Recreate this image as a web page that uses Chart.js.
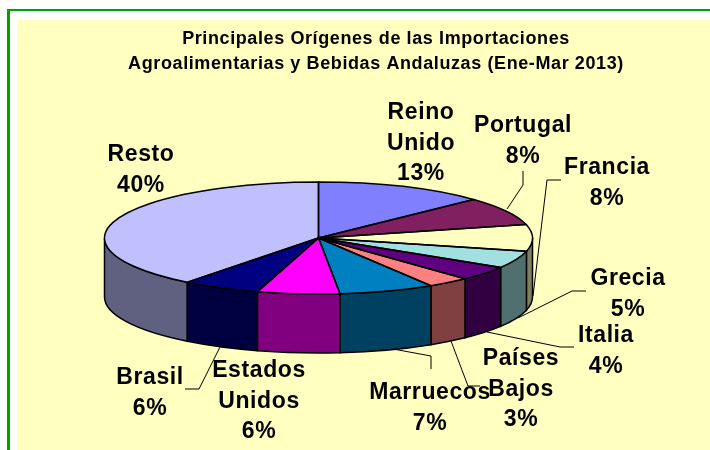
<!DOCTYPE html>
<html>
<head>
<meta charset="utf-8">
<title>Importaciones Andaluzas</title>
<script src="https://cdn.jsdelivr.net/npm/chart.js@4"></script>
<style>
html, body { margin: 0; background: #fff; }
#page { position: relative; width: 710px; height: 450px; overflow: hidden; }
#frame { position: absolute; left: 7px; top: 9px; width: 800px; height: 600px; border: 3px solid #00a000; border-top-width: 2px; box-sizing: border-box; }
#panel { position: absolute; left: 17px; top: 20px; width: 718px; height: 430px; background: #ffffc0; }
</style>
</head>
<body>
<div id="page">
    <div id="frame"></div>
    <div id="panel"><canvas id="pieChart" width="718" height="430"></canvas></div>
</div>
<script>
const titleLines = ['Principales Orígenes de las Importaciones', 'Agroalimentarias y Bebidas Andaluzas (Ene-Mar 2013)'];
const categories = ['Reino Unido', 'Portugal', 'Francia', 'Grecia', 'Italia', 'Países Bajos', 'Marruecos', 'Estados Unidos', 'Brasil', 'Resto'];
const shares = [12.9, 8.2, 7.7, 5.0, 4.2, 3.2, 7.2, 6.2, 5.9, 39.5];
const topColors = ['#8080ff', '#802060', '#ffffc0', '#a0e0e0', '#600080', '#ff8080', '#0080c0', '#ff00ff', '#000080', '#c0c0ff'];
const sideColors = ['#404080', '#401030', '#808060', '#507070', '#300040', '#804040', '#004060', '#800080', '#000040', '#606080'];

// page coordinates, the canvas sits at 17,20
const offsetX = 17, offsetY = 20;
const pieX = 318.5, pieY = 238, pieRadius = 214, squash = 56 / 214, depth = 59;
const labelSpots = [[421, 119], [523, 132], [607, 174], [628, 285], [606, 342], [521, 365], [430, 399], [259, 377], [150, 384], [141, 161]];
const leaders = [
    [[523, 171], [523, 185], [507, 209]],
    [[561, 180], [547, 180], [533, 296]],
    [[586, 291], [572, 291], [518, 318]],
    [[574, 347], [560, 347], [487, 332]],
    [[480, 386], [468, 386], [451, 341]],
    [[431, 369], [431, 356], [393, 349]],
    [[185, 389], [199, 389], [220, 347]]
];

// Chart.js only does round pies, so squash the arcs and build the wall from the same angles
function pieTransform(ctx, arc) {
    ctx.translate(pieX - offsetX, pieY - offsetY);
    ctx.scale(1, squash);
    ctx.translate(-arc.x, -arc.y);
}

function midAngle(arc) {
    return (Math.max(arc.startAngle, 0) + Math.min(arc.endAngle, Math.PI)) / 2;
}

const tiltedPie = {
    id: 'tiltedPie',
    beforeDraw(chart) {
        // the title plugin has no letter spacing option
        chart.ctx.letterSpacing = '0.6px';
    },
    beforeDatasetsDraw(chart) {
        const ctx = chart.ctx;
        const arcs = chart.getDatasetMeta(0).data;
        // back to front: both ends first, the front of the pie last
        const order = arcs.map((a, i) => i).sort((a, b) => {
            return Math.abs(Math.PI / 2 - midAngle(arcs[b])) - Math.abs(Math.PI / 2 - midAngle(arcs[a]));
        });
        order.forEach(function(i) {
            const arc = arcs[i];
            const from = Math.max(arc.startAngle, 0);
            const to = Math.min(arc.endAngle, Math.PI);
            if (to <= from) return;
            ctx.save();
            ctx.beginPath();
            ctx.save();
            ctx.translate(0, depth);
            pieTransform(ctx, arc);
            ctx.arc(arc.x, arc.y, arc.outerRadius, from, to);
            ctx.restore();
            ctx.save();
            pieTransform(ctx, arc);
            ctx.arc(arc.x, arc.y, arc.outerRadius, to, from, true);
            ctx.restore();
            ctx.closePath();
            ctx.fillStyle = sideColors[i];
            ctx.fill();
            ctx.lineWidth = 1.5;
            ctx.strokeStyle = '#000';
            ctx.stroke();
            ctx.restore();
        });
        ctx.save();
        pieTransform(ctx, arcs[0]);
    },
    afterDatasetsDraw(chart) {
        const ctx = chart.ctx;
        ctx.restore();
        chart.getDatasetMeta(0).data.forEach(function(arc) {
            ctx.save();
            ctx.beginPath();
            ctx.save();
            pieTransform(ctx, arc);
            ctx.moveTo(arc.x, arc.y);
            ctx.arc(arc.x, arc.y, arc.outerRadius, arc.startAngle, arc.endAngle);
            ctx.closePath();
            ctx.restore();
            ctx.lineWidth = 1.5;
            ctx.strokeStyle = '#000';
            ctx.stroke();
            ctx.restore();
        });
    },
    afterDraw(chart) {
        const ctx = chart.ctx;
        ctx.save();
        ctx.strokeStyle = '#000';
        ctx.lineWidth = 1;
        leaders.forEach(function(line) {
            ctx.beginPath();
            line.forEach(function(p, i) {
                if (i == 0) ctx.moveTo(p[0] - offsetX, p[1] - offsetY);
                else ctx.lineTo(p[0] - offsetX, p[1] - offsetY);
            });
            ctx.stroke();
        });
        ctx.fillStyle = '#000';
        ctx.font = 'bold 23px "Liberation Sans"';
        ctx.letterSpacing = '0.6px';
        ctx.textAlign = 'center';
        ctx.textBaseline = 'alphabetic';
        categories.forEach(function(name, i) {
            const lines = name.split(' ').concat(Math.round(shares[i]) + '%');
            lines.forEach(function(text, n) {
                ctx.fillText(text, labelSpots[i][0] - offsetX, labelSpots[i][1] - offsetY + n * 30.7);
            });
        });
        ctx.restore();
    }
};

const ctx = document.getElementById('pieChart').getContext('2d');
const pieChart = new Chart(ctx, {
    type: 'pie',
    data: {
        labels: categories,
        datasets: [{
            data: shares,
            backgroundColor: topColors,
            borderWidth: 0,
            radius: pieRadius
        }]
    },
    options: {
        responsive: false,
        animation: false,
        events: [],
        layout: { padding: 0 },
        plugins: {
            legend: { display: false },
            tooltip: { enabled: false },
            title: {
                display: true,
                text: titleLines,
                color: '#000',
                font: { family: '"Liberation Sans"', size: 18, weight: 'bold', lineHeight: 1.39 },
                padding: { top: 7, bottom: 0 }
            }
        }
    },
    plugins: [tiltedPie]
});
</script>
</body>
</html>
